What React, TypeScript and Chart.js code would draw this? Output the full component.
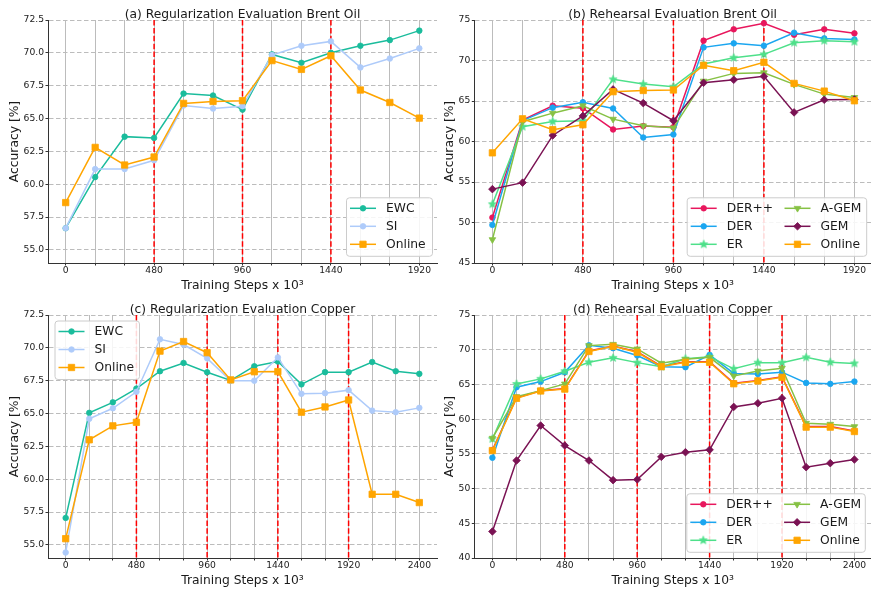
import React, { useEffect, useRef } from "react";
import { Chart, registerables } from "chart.js";

Chart.register(...registerables);

const FONT = "'DejaVu Sans', 'Liberation Sans', sans-serif";
const TEXT = "#1a1a1a";
const GRID = "#bcbcbc";

// ---------- categories / ticks ----------
const STEPS_OIL = [0, 160, 320, 480, 640, 800, 960, 1120, 1280, 1440, 1600, 1760, 1920];
const STEPS_COPPER = [0, 160, 320, 480, 640, 800, 960, 1120, 1280, 1440, 1600, 1760, 1920, 2080, 2240, 2400];
const LABELED_OIL = [0, 480, 960, 1440, 1920];
const LABELED_COPPER = [0, 480, 960, 1440, 1920, 2400];
const TASK_BOUNDS_OIL = [480, 960, 1440];
const TASK_BOUNDS_COPPER = [480, 960, 1440, 1920];
const Y_TICKS_REG = [55, 57.5, 60, 62.5, 65, 67.5, 70, 72.5];
const Y_TICKS_OIL_REH = [45, 50, 55, 60, 65, 70, 75];
const Y_TICKS_COPPER_REH = [40, 45, 50, 55, 60, 65, 70, 75];

// ---------- (a) Regularization Brent Oil ----------
const A_EWC = [56.65, 60.54, 63.62, 63.52, 66.9, 66.75, 65.68, 69.88, 69.24, 70.0, 70.54, 70.97, 71.69];
const A_SI = [56.65, 61.15, 61.15, 61.82, 65.99, 65.76, 65.94, 69.83, 70.54, 70.87, 68.89, 69.57, 70.34];
const A_ONLINE = [58.6, 62.8, 61.46, 62.07, 66.15, 66.3, 66.36, 69.41, 68.74, 69.78, 67.17, 66.22, 65.03];

// ---------- (b) Rehearsal Brent Oil ----------
const B_DERPP = [50.61, 62.65, 64.42, 64.12, 61.49, 61.9, 61.77, 72.45, 73.85, 74.59, 73.19, 73.85, 73.35];
const B_DER = [49.7, 62.57, 64.18, 64.85, 64.08, 60.5, 60.87, 71.62, 72.12, 71.83, 73.43, 72.73, 72.6];
const B_ER = [52.26, 61.83, 62.48, 62.55, 67.67, 67.09, 66.76, 69.56, 70.34, 70.76, 72.2, 72.45, 72.32];
const B_AGEM = [47.89, 62.45, 63.5, 64.42, 62.76, 61.94, 61.69, 67.46, 68.41, 68.49, 67.05, 65.85, 65.44];
const B_GEM = [54.12, 54.92, 60.75, 63.16, 66.43, 64.74, 62.56, 67.25, 67.62, 68.04, 63.59, 65.15, 65.19];
const B_ONLINE = [58.6, 62.8, 61.46, 62.07, 66.15, 66.3, 66.36, 69.41, 68.74, 69.78, 67.17, 66.22, 65.03];

// ---------- (c) Regularization Copper ----------
const C_EWC = [57.05, 65.05, 65.85, 66.9, 68.22, 68.85, 68.14, 67.52, 68.6, 68.96, 67.22, 68.15, 68.15, 68.92, 68.22, 68.02];
const C_SI = [54.42, 64.6, 65.4, 66.65, 70.65, 70.25, 69.2, 67.5, 67.5, 69.27, 66.5, 66.55, 66.78, 65.22, 65.1, 65.43];
const C_ONLINE = [55.47, 63.0, 64.06, 64.33, 69.75, 70.48, 69.63, 67.56, 68.18, 68.19, 65.1, 65.5, 66.03, 58.85, 58.85, 58.22];

// ---------- (d) Rehearsal Copper ----------
const D_DERPP = [55.55, 63.08, 64.1, 64.4, 69.82, 70.55, 69.7, 67.62, 68.25, 68.26, 65.18, 65.56, 66.1, 58.95, 58.95, 58.3];
const D_DER = [54.45, 64.6, 65.41, 66.75, 70.64, 70.22, 69.17, 67.55, 67.48, 69.25, 66.58, 66.5, 66.77, 65.22, 65.08, 65.42];
const D_ER = [57.15, 65.07, 65.8, 66.9, 68.2, 68.83, 68.14, 67.55, 68.7, 68.98, 67.25, 68.14, 68.14, 68.9, 68.2, 68.03];
const D_AGEM = [57.25, 63.25, 64.11, 65.07, 70.59, 70.78, 70.11, 68.05, 68.62, 68.9, 66.22, 66.94, 67.33, 59.41, 59.27, 58.93];
const D_GEM = [43.82, 54.04, 59.08, 56.2, 54.04, 51.21, 51.31, 54.57, 55.24, 55.58, 61.76, 62.29, 63.01, 53.08, 53.66, 54.18];
const D_ONLINE = [55.47, 63.0, 64.06, 64.33, 69.75, 70.48, 69.63, 67.56, 68.18, 68.19, 65.1, 65.5, 66.03, 58.85, 58.85, 58.22];

const COLORS = {
  ewc: "#1abc9c",
  si: "#aecbfa",
  online: "#ffa500",
  derpp: "#e8175d",
  der: "#1ba6f0",
  er: "#4ee08a",
  agem: "#86c144",
  gem: "#7a1253",
};

type SeriesSpec = {
  label: string;
  values: number[];
  color: string;
  style: string;
  radius: number;
  rotation?: number;
};

type LegendSpec = { x: number; y: number; w: number; h: number; cols: number; colGap: number };

type PanelSpec = {
  left: number;
  top: number;
  width: number;
  height: number;
  title: string;
  steps: number[];
  labeled: number[];
  bounds: number[];
  xMin: number;
  xMax: number;
  yMin: number;
  yMax: number;
  yTicks: number[];
  decimals: number;
  yAxisWidth: number;
  padRight: number;
  yTitlePad: number;
  series: SeriesSpec[];
  legend: LegendSpec;
};

const regSeries = (ewc: number[], si: number[], online: number[]): SeriesSpec[] => [
  { label: "EWC", values: ewc, color: COLORS.ewc, style: "circle", radius: 2.8 },
  { label: "SI", values: si, color: COLORS.si, style: "circle", radius: 2.8 },
  { label: "Online", values: online, color: COLORS.online, style: "rect", radius: 4.5 },
];

const rehSeries = (
  derpp: number[],
  der: number[],
  er: number[],
  agem: number[],
  gem: number[],
  online: number[]
): SeriesSpec[] => [
  { label: "DER++", values: derpp, color: COLORS.derpp, style: "circle", radius: 2.8 },
  { label: "DER", values: der, color: COLORS.der, style: "circle", radius: 2.8 },
  { label: "ER", values: er, color: COLORS.er, style: "star", radius: 3 },
  { label: "A-GEM", values: agem, color: COLORS.agem, style: "triangle", radius: 3.8, rotation: 180 },
  { label: "GEM", values: gem, color: COLORS.gem, style: "rectRot", radius: 3.8 },
  { label: "Online", values: online, color: COLORS.online, style: "rect", radius: 4.5 },
];

const PANELS: PanelSpec[] = [
  {
    left: 0, top: 0, width: 440, height: 295,
    title: "(a) Regularization Evaluation Brent Oil",
    steps: STEPS_OIL, labeled: LABELED_OIL, bounds: TASK_BOUNDS_OIL,
    xMin: -96, xMax: 2016, yMin: 54, yMax: 72.5, yTicks: Y_TICKS_REG, decimals: 1,
    yAxisWidth: 48, padRight: 3, yTitlePad: 7.6,
    series: regSeries(A_EWC, A_SI, A_ONLINE),
    legend: { x: 346, y: 197.3, w: 86, h: 58.5, cols: 1, colGap: 0 },
  },
  {
    left: 440, top: 0, width: 431, height: 295,
    title: "(b) Rehearsal Evaluation Brent Oil",
    steps: STEPS_OIL, labeled: LABELED_OIL, bounds: TASK_BOUNDS_OIL,
    xMin: -96, xMax: 2008, yMin: 45, yMax: 75, yTicks: Y_TICKS_OIL_REH, decimals: 0,
    yAxisWidth: 34.3, padRight: 0, yTitlePad: 2.6,
    series: rehSeries(B_DERPP, B_DER, B_ER, B_AGEM, B_GEM, B_ONLINE),
    legend: { x: 246.7, y: 197.3, w: 179.5, h: 58.5, cols: 2, colGap: 93.8 },
  },
  {
    left: 0, top: 295, width: 440, height: 295,
    title: "(c) Regularization Evaluation Copper",
    steps: STEPS_COPPER, labeled: LABELED_COPPER, bounds: TASK_BOUNDS_COPPER,
    xMin: -120, xMax: 2520, yMin: 54, yMax: 72.5, yTicks: Y_TICKS_REG, decimals: 1,
    yAxisWidth: 48, padRight: 3, yTitlePad: 7.6,
    series: regSeries(C_EWC, C_SI, C_ONLINE),
    legend: { x: 54.5, y: 25.5, w: 84.5, h: 58.5, cols: 1, colGap: 0 },
  },
  {
    left: 440, top: 295, width: 431, height: 295,
    title: "(d) Rehearsal Evaluation Copper",
    steps: STEPS_COPPER, labeled: LABELED_COPPER, bounds: TASK_BOUNDS_COPPER,
    xMin: -120, xMax: 2510, yMin: 40, yMax: 75, yTicks: Y_TICKS_COPPER_REH, decimals: 0,
    yAxisWidth: 34.3, padRight: 0, yTitlePad: 2.6,
    series: rehSeries(D_DERPP, D_DER, D_ER, D_AGEM, D_GEM, D_ONLINE),
    legend: { x: 246.3, y: 198.3, w: 178.5, h: 58.5, cols: 2, colGap: 93.8 },
  },
];

function makeStar(color: string, R = 4.3): HTMLCanvasElement {
  const c = document.createElement("canvas");
  const s = 12;
  c.width = s;
  c.height = s;
  const g = c.getContext("2d")!;
  g.translate(s / 2, s / 2);
  g.beginPath();
  for (let k = 0; k < 10; k++) {
    const rr = k % 2 === 0 ? R : R * 0.45;
    const a = -Math.PI / 2 + (k * Math.PI) / 5;
    g.lineTo(rr * Math.cos(a), rr * Math.sin(a));
  }
  g.closePath();
  g.fillStyle = color;
  g.fill();
  g.strokeStyle = color;
  g.lineWidth = 0.6;
  g.stroke();
  return c;
}

function drawMarker(
  ctx: CanvasRenderingContext2D,
  style: any,
  x: number,
  y: number,
  r: number,
  rot: number,
  color: string
) {
  ctx.save();
  if (style && typeof style === "object") {
    ctx.drawImage(style, x - style.width / 2, y - style.height / 2);
    ctx.restore();
    return;
  }
  ctx.fillStyle = color;
  ctx.strokeStyle = color;
  ctx.lineWidth = 0.8;
  ctx.translate(x, y);
  ctx.rotate((rot * Math.PI) / 180);
  ctx.beginPath();
  if (style === "circle") {
    ctx.arc(0, 0, r, 0, Math.PI * 2);
  } else if (style === "rect") {
    const s = r * Math.SQRT1_2;
    ctx.rect(-s, -s, 2 * s, 2 * s);
  } else if (style === "rectRot") {
    ctx.moveTo(-r, 0);
    ctx.lineTo(0, -r);
    ctx.lineTo(r, 0);
    ctx.lineTo(0, r);
    ctx.closePath();
  } else if (style === "triangle") {
    for (let k = 0; k < 3; k++) {
      const a = (k * 2 * Math.PI) / 3;
      ctx.lineTo(Math.sin(a) * r, -Math.cos(a) * r);
    }
    ctx.closePath();
  }
  ctx.fill();
  ctx.stroke();
  ctx.restore();
}

function buildConfig(spec: PanelSpec): any {
  const n = spec.series.length;
  const datasets = spec.series.map((s, i) => {
    const pStyle: any = s.style === "star" ? makeStar(s.color) : s.style;
    return {
      label: s.label,
      data: spec.steps.map((x, j) => ({ x, y: s.values[j] })),
      borderColor: s.color,
      backgroundColor: s.color,
      pointBackgroundColor: s.color,
      pointBorderColor: s.color,
      pointBorderWidth: 0.8,
      pointRadius: s.radius,
      pointStyle: pStyle,
      pointRotation: s.rotation || 0,
      borderWidth: 1.5,
      tension: 0,
      fill: false,
      order: n - i,
      clip: false,
    };
  });

  const boundsPlugin = {
    id: "taskBounds",
    beforeDatasetsDraw(chart: any) {
      const { ctx, chartArea, scales } = chart;
      ctx.save();
      ctx.strokeStyle = "#ff0000";
      ctx.lineWidth = 1.5;
      ctx.setLineDash([5.5, 2.4]);
      spec.bounds.forEach((b) => {
        const px = scales.x.getPixelForValue(b);
        ctx.beginPath();
        ctx.moveTo(px, chartArea.top);
        ctx.lineTo(px, chartArea.bottom);
        ctx.stroke();
      });
      ctx.restore();
    },
  };

  const legendPlugin = {
    id: "innerLegend",
    afterDraw(chart: any) {
      const ctx: CanvasRenderingContext2D = chart.ctx;
      const L = spec.legend;
      ctx.save();
      ctx.beginPath();
      const r = 3;
      const x0 = L.x + 0.5, y0 = L.y + 0.5, w = L.w, h = L.h;
      ctx.moveTo(x0 + r, y0);
      ctx.arcTo(x0 + w, y0, x0 + w, y0 + h, r);
      ctx.arcTo(x0 + w, y0 + h, x0, y0 + h, r);
      ctx.arcTo(x0, y0 + h, x0, y0, r);
      ctx.arcTo(x0, y0, x0 + w, y0, r);
      ctx.closePath();
      ctx.fillStyle = "rgba(255,255,255,0.85)";
      ctx.fill();
      ctx.strokeStyle = "#cccccc";
      ctx.lineWidth = 1;
      ctx.stroke();
      const rows = Math.ceil(chart.data.datasets.length / L.cols);
      chart.data.datasets.forEach((ds: any, i: number) => {
        const col = Math.floor(i / rows);
        const row = i % rows;
        const hx = L.x + 4 + col * L.colGap;
        const cy = L.y + 11 + row * 18;
        ctx.save();
        ctx.strokeStyle = ds.borderColor;
        ctx.lineWidth = 1.5;
        ctx.beginPath();
        ctx.moveTo(hx, cy);
        ctx.lineTo(hx + 26, cy);
        ctx.stroke();
        ctx.restore();
        drawMarker(ctx, ds.pointStyle, hx + 13, cy, ds.pointRadius, ds.pointRotation, ds.borderColor);
        ctx.fillStyle = TEXT;
        ctx.font = `12.3px ${FONT}`;
        ctx.textAlign = "left";
        ctx.textBaseline = "middle";
        ctx.fillText(ds.label, hx + 36, cy + 0.5);
      });
      ctx.restore();
    },
  };

  return {
    type: "line",
    data: { datasets },
    plugins: [boundsPlugin, legendPlugin],
    options: {
      responsive: false,
      animation: false,
      events: [],
      devicePixelRatio: 1,
      layout: { autoPadding: false, padding: { left: 0, right: spec.padRight, top: 0, bottom: 0 } },
      plugins: {
        legend: { display: false },
        tooltip: { enabled: false },
        title: {
          display: true,
          text: spec.title,
          fullSize: false,
          color: TEXT,
          font: { family: FONT, size: 12.3, weight: "normal", lineHeight: 1 },
          padding: { top: 8.2, bottom: -0.5 },
        },
      },
      scales: {
        x: {
          type: "linear",
          min: spec.xMin,
          max: spec.xMax,
          afterBuildTicks: (ax: any) => {
            ax.ticks = spec.steps.map((v) => ({ value: v }));
          },
          afterFit: (sc: any) => {
            sc.height = 32;
          },
          ticks: {
            autoSkip: false,
            maxRotation: 0,
            minRotation: 0,
            padding: 0.6,
            color: TEXT,
            font: { family: FONT, size: 9.2, lineHeight: 1 },
            callback: (v: any) => (spec.labeled.includes(Number(v)) ? String(v) : ""),
          },
          grid: {
            color: GRID,
            lineWidth: 1,
            tickLength: 2.5,
            tickColor: "#333333",
            tickWidth: 1,
          },
          border: { color: "#333333", width: 1 },
          title: {
            display: true,
            text: "Training Steps x 10³",
            color: TEXT,
            font: { family: FONT, size: 12.3, lineHeight: 1.2 },
            padding: { top: 0, bottom: 1.9 },
          },
        },
        y: {
          type: "linear",
          min: spec.yMin,
          max: spec.yMax,
          afterBuildTicks: (ax: any) => {
            ax.ticks = spec.yTicks.map((v) => ({ value: v }));
          },
          afterFit: (sc: any) => {
            sc.width = spec.yAxisWidth;
          },
          ticks: {
            padding: 1.5,
            color: TEXT,
            font: { family: FONT, size: 9.2 },
            callback: (v: any) => Number(v).toFixed(spec.decimals),
          },
          grid: {
            color: GRID,
            lineWidth: 1,
            tickLength: 2.5,
            tickColor: "#333333",
            tickWidth: 1,
          },
          border: { color: "#333333", width: 1, dash: [4.5, 2.5] },
          title: {
            display: true,
            text: "Accuracy [%]",
            color: TEXT,
            font: { family: FONT, size: 12.3, lineHeight: 1.2 },
            padding: { top: spec.yTitlePad, bottom: 0 },
          },
        },
      },
    },
  };
}

function Panel({ spec }: { spec: PanelSpec }) {
  const ref = useRef<HTMLCanvasElement | null>(null);
  useEffect(() => {
    if (!ref.current) return;
    const chart = new Chart(ref.current, buildConfig(spec));
    return () => chart.destroy();
  }, [spec]);
  return (
    <div
      style={{
        position: "absolute",
        left: spec.left,
        top: spec.top,
        width: spec.width,
        height: spec.height,
      }}
    >
      <canvas ref={ref} width={spec.width} height={spec.height} style={{ display: "block" }} />
    </div>
  );
}

export default function App() {
  Chart.defaults.font.family = FONT;
  return (
    <div
      style={{
        position: "fixed",
        left: 0,
        top: 0,
        width: 871,
        height: 590,
        background: "#ffffff",
        overflow: "hidden",
      }}
    >
      {PANELS.map((p, i) => (
        <Panel key={i} spec={p} />
      ))}
    </div>
  );
}
